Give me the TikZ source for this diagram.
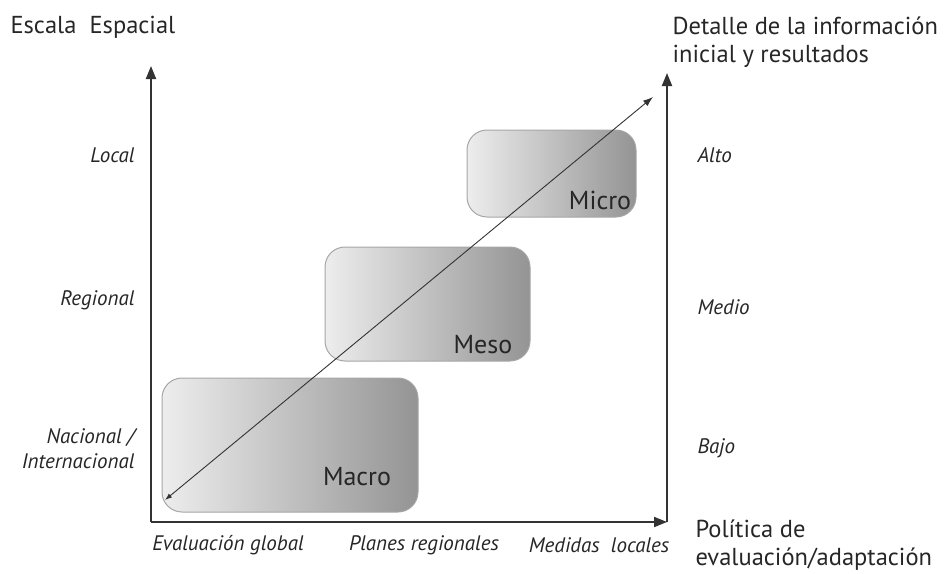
\documentclass[tikz,border=0pt]{standalone}
\usepackage{fontspec}
\setmainfont{PT Sans}
\usetikzlibrary{arrows.meta}
\begin{document}
\begin{tikzpicture}[x=1pt,y=-1pt,
    zona/.style={draw=black!35, line width=1pt, rounded corners=20pt, left color=black!7, right color=black!42},
    eje/.style={line width=2pt, draw=black!80, -{Triangle[length=13pt,width=10pt]}},
    nivel/.style={font=\fontsize{21}{25}\selectfont\itshape, text=black!85},
    titulo/.style={font=\fontsize{24.5}{28}\selectfont, text=black!85, align=left}]
    \useasboundingbox (0,0) rectangle (947,573);
    % zonas
    \foreach \nom/\cx/\cy/\w/\h/\tx/\ty in {Macro/290/445/256/134/357/477, Meso/427.5/304/205/114/483/345, Micro/551.5/173.5/169/87/600/200} {
            \node[zona, minimum width=\w pt, minimum height=\h pt] (z\nom) at (\cx,\cy) {};
            \node[font=\fontsize{26}{28}\selectfont, text=black!85] (t\nom) at (\tx,\ty) {\nom};
        }
    % ejes
    \coordinate (o) at (151,522);
    \coordinate (ye) at (151,66);
    \coordinate (xe) at (667,522);
    \coordinate (ze) at (667,73);
    \draw[eje] (o) -- (ye);
    \draw[eje] (o) -- (xe);
    \draw[eje] (xe) -- (ze);
    \coordinate (d1) at (165,500);
    \coordinate (d2) at (653,97);
    \draw[line width=0.9pt, black!80, {Latex[length=7pt,width=5pt]}-{Latex[length=10pt,width=7pt]}] (d1) -- (d2);
    % etiquetas
    \foreach \n/\y/\t in {loc/155/Local, reg/300/Regional, nac/449/{Nacional /\\Internacional}}
    \node[nivel, anchor=east, align=right] (\n) at (138,\y) {\t};
    \foreach \n/\y/\t in {alto/155/Alto, medio/307/Medio, bajo/448/Bajo}
    \node[nivel, anchor=west] (\n) at (694,\y) {\t};
    \foreach \n/\x/\t in {glob/228/Evaluación global, plan/424/Planes regionales, med/599/Medidas\ \ locales}
    \node[nivel] (\n) at (\x,545) {\t};
    \node[titulo, anchor=base west] (escala) at (7,33) {Escala\ \ Espacial};
    \node[titulo, anchor=base west] (detalle) at (669,62) {Detalle de la información\\inicial y resultados};
    \node[titulo, anchor=base west] (politica) at (692,565) {Política de\\evaluación/adaptación};
\end{tikzpicture}
\end{document}
